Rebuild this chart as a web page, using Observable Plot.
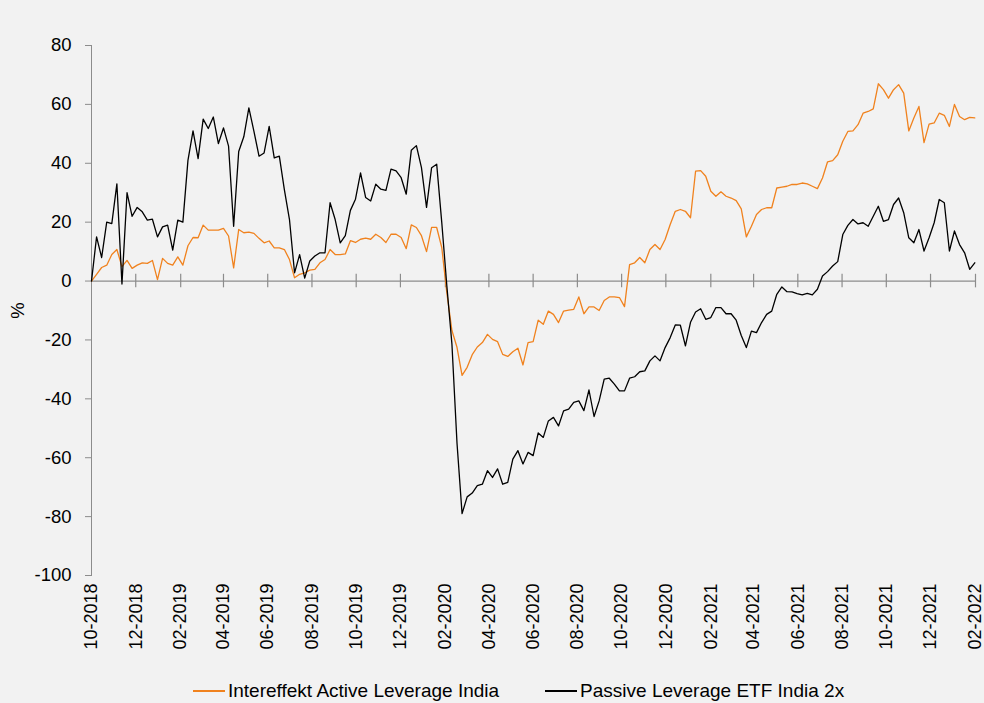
<!DOCTYPE html>
<html>
<head>
<meta charset="utf-8">
<script src="https://cdn.jsdelivr.net/npm/d3@7"></script>
<script src="https://cdn.jsdelivr.net/npm/@observablehq/plot@0.6"></script>
<style>
  html, body { margin: 0; padding: 0; background: #f2f2f2; }
  #wrap { position: relative; width: 984px; height: 703px; background: #f2f2f2; overflow: hidden; }
  #legend { position: absolute; left: 193px; top: 678px; height: 26px; display: flex; align-items: center;
            font-family: "Liberation Sans", Arial, sans-serif; font-size: 19px; color: #000; white-space: nowrap; }
  .item { display: flex; align-items: center; }
  .sw { width: 32px; height: 1.5px; margin-right: 3px; }
  .gap { width: 46px; }
</style>
</head>
<body>
<div id="wrap">
  <div id="chart"></div>
  <div id="legend"></div>
</div>
<script>
// ---- data (weekly readings, start date 2018-10-01) ----
const seriesNames = ["Intereffekt Active Leverage India", "Passive Leverage ETF India 2x"];
const seriesColors = ["#F0821E", "#000000"];
const startDate = "2018-10-01";

const activeWeekly = [
  0, 2.3, 4.6, 5.4, 9, 10.7, 4.9, 7, 4.3, 5.4,
  6.2, 6, 7, 0.5, 7.7, 6, 5.4, 8.2, 5.4, 12,
  14.8, 14.7, 19, 17.3, 17.3, 17.3, 17.9, 15.3, 4.5, 17.5,
  16.4, 16.6, 16.2, 14.5, 13, 13.6, 11.3, 11.3, 10.7, 7.3,
  1.1, 2.3, 2.8, 3.7, 4, 6.2, 7.3, 10.7, 9, 9,
  9.2, 13.7, 13.1, 14.2, 14.6, 14.2, 15.9, 14.8, 13.1, 15.9,
  15.9, 14.8, 11, 19.1, 18.2, 15.4, 10, 18.2, 18.2, 11.4,
  -4, -16.8, -22.5, -32, -29.3, -25, -22.4, -20.9, -18.1, -19.8,
  -20.6, -24.9, -25.6, -24, -22.8, -28.5, -20.9, -20.6, -13.3, -14.7,
  -10.2, -11.3, -14.1, -10.2, -9.9, -9.6, -5.4, -11.1, -8.8, -8.8,
  -10, -6.6, -5.4, -5.4, -5.6, -8.7, 5.6, 6.2, 8, 6.2,
  10.7, 12.4, 10.7, 14.1, 19.2, 23.7, 24.3, 23.7, 21.5, 37.3,
  37.5, 35.6, 30.5, 28.8, 30.3, 28.8, 28.2, 27.3, 24.5, 15,
  18.6, 22.6, 24.3, 24.9, 24.9, 31.6, 31.9, 32.2, 32.8, 32.8,
  33.3, 33, 32.2, 31.4, 35, 40.5, 40.9, 42.9, 47.5, 50.8,
  51, 53.1, 57, 57.6, 58.5, 67, 65, 62.1, 65, 66.7,
  63.8, 51, 55.4, 59.3, 47, 53.3, 53.7, 57, 56.3, 52.5,
  60, 55.9, 54.8, 55.6, 55.4
];

const passiveWeekly = [
  0, 15, 8, 20, 19.5, 33, -1, 30, 22, 25,
  23.5, 20.7, 21, 15, 18.4, 19, 10.5, 20.7, 20, 41,
  51, 41.6, 55, 51.8, 55.7, 46.7, 52, 45.8, 18.6, 44,
  49, 58.8, 50.8, 42.4, 43.5, 52.5, 41.8, 42.4, 31, 20.9,
  2.8, 9, 1, 6.8, 8.5, 9.6, 9.6, 26.6, 20.9, 13,
  15.4, 24, 27.8, 36.7, 28.4, 27.2, 32.9, 31.2, 30.8, 38,
  37.4, 35.1, 29.5, 44.4, 46, 38.5, 25, 38.5, 39.7, 19.9,
  -1.6, -21.4, -55, -79, -73.3, -72, -69.5, -69, -64.4, -66.7,
  -63.8, -69, -68.4, -60.5, -57.6, -62.1, -58.2, -59.3, -51.6, -53.1,
  -47.5, -46.3, -49.2, -44.1, -43.5, -41.2, -40.7, -44, -37, -46,
  -40.7, -33.3, -33, -35, -37.3, -37.3, -33, -32.5, -30.8, -30.5,
  -27.1, -25.4, -27.1, -22.6, -19.2, -14.9, -15, -22, -14, -10.5,
  -9.4, -13, -12.4, -9, -9, -11.1, -11.1, -13.3, -18.5, -22.6,
  -17, -17.5, -14.1, -11.3, -10.2, -4.5, -2, -3.6, -3.7, -4.3,
  -4.7, -4.2, -4.7, -2.8, 1.7, 3.2, 5.1, 6.6, 15.8, 18.9,
  20.9, 19.4, 19.8, 18.6, 22, 25.4, 20.3, 20.9, 26, 28.2,
  23.2, 14.7, 13, 17.5, 10.2, 14.7, 19.8, 27.7, 26.6, 10.2,
  17, 12.4, 9.6, 4, 6.2
];

const tickLabels = [
  "10-2018", "12-2018", "02-2019", "04-2019", "06-2019", "08-2019", "10-2019",
  "12-2019", "02-2020", "04-2020", "06-2020", "08-2020", "10-2020", "12-2020",
  "02-2021", "04-2021", "06-2021", "08-2021", "10-2021", "12-2021", "02-2022"
];
const yTicks = [-100, -80, -60, -40, -20, 0, 20, 40, 60, 80];
const yLabel = "%";

// ---- build table ----
const start = d3.utcParse("%Y-%m-%d")(startDate);
const parseTick = d3.utcParse("%m-%Y");
const tickDates = tickLabels.map(parseTick);
const data = [];
[activeWeekly, passiveWeekly].forEach((arr, s) => {
  arr.forEach((v, i) => data.push({ date: d3.utcDay.offset(start, 7 * i), value: v, series: seriesNames[s] }));
});

const axisGray = "#8c8c8c";
const font = "'Liberation Sans', Arial, sans-serif";

const chart = Plot.plot({
  width: 984,
  height: 668,
  marginLeft: 91,
  marginRight: 9,
  marginTop: 45,
  marginBottom: 93,
  style: { background: "#f2f2f2", fontFamily: font, color: "#000" },
  x: { type: "utc", domain: [tickDates[0], tickDates[tickDates.length - 1]] },
  y: { domain: [-100, 80] },
  color: { domain: seriesNames, range: seriesColors },
  marks: [
    Plot.axisY({
      ticks: yTicks, tickSize: 6, tickPadding: 14, stroke: axisGray,
      fontSize: 18.5, tickFormat: d => String(d),
      label: yLabel, labelAnchor: "center", labelArrow: "none", labelOffset: 81
    }),
    Plot.axisX({
      ticks: tickDates, tickFormat: d3.utcFormat("%m-%Y"), tickRotate: -90,
      tickSize: 0, tickPadding: 8, fontSize: 18, label: null
    }),
    Plot.frame({ anchor: "left", stroke: axisGray }),
    Plot.ruleY([0], { stroke: axisGray, strokeWidth: 1.2 }),
    Plot.ruleX(tickDates.slice(1), { y1: -2.3, y2: 2.3, stroke: axisGray, strokeWidth: 1.2 }),
    Plot.line(data, { x: "date", y: "value", z: "series", stroke: "series", strokeWidth: 1.3 })
  ]
});
document.getElementById("chart").appendChild(chart);

// ---- legend ----
const legend = document.getElementById("legend");
seriesNames.forEach((name, i) => {
  if (i > 0) { const g = document.createElement("div"); g.className = "gap"; legend.appendChild(g); }
  const item = document.createElement("div"); item.className = "item";
  const sw = document.createElement("div"); sw.className = "sw"; sw.style.background = seriesColors[i];
  const t = document.createElement("span"); t.textContent = name;
  item.appendChild(sw); item.appendChild(t);
  legend.appendChild(item);
});
</script>
</body>
</html>
